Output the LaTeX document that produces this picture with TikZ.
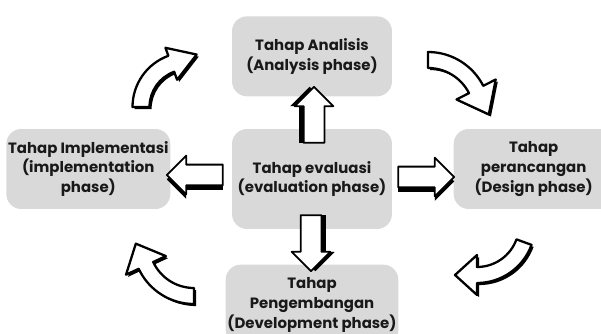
\documentclass[tikz,border=0pt]{standalone}
\usepackage{fontspec}
\setmainfont{Poppins}
\usepackage{tikz}
\usetikzlibrary{shapes.arrows,positioning,shadows}

\definecolor{phasegray}{RGB}{217,217,217}
\definecolor{inkblack}{RGB}{25,25,25}

\tikzset{
  phase/.style={rectangle, rounded corners=0.3cm, fill=phasegray, text=inkblack, align=center,
    font=\bfseries\fontsize{8.5}{11.3}\selectfont, minimum width=3.2cm, minimum height=1.6cm, inner sep=1pt},
  blockarrow/.style={single arrow, draw=black, fill=white, line width=1pt, line join=round,
    minimum height=1.12cm, inner sep=0.19cm, single arrow head extend=0.18cm},
  bendarrow/.style={draw=black, fill=white, line width=1.3pt, line join=round,
    drop shadow={shadow xshift=1.2pt, shadow yshift=-1.2pt, fill=black, opacity=1}},
}

% curved block arrow: centre, radius, start, end, half width, head length, head half width
\newcommand{\curlyarrow}[7]{%
  \pgfmathsetmacro{\rout}{#2+#5}%
  \pgfmathsetmacro{\rin}{#2-#5}%
  \pgfmathsetmacro{\wout}{#2+#7}%
  \pgfmathsetmacro{\win}{#2-#7}%
  \pgfmathsetmacro{\tipx}{#2*cos(#4)+#6*cos(#4+90)}%
  \pgfmathsetmacro{\tipy}{#2*sin(#4)+#6*sin(#4+90)}%
  \draw[bendarrow, shift={#1}] (#3:\rout) arc[start angle=#3, end angle=#4, radius=\rout]
    -- (#4:\wout) -- (\tipx,\tipy) -- (#4:\win) -- (#4:\rin)
    arc[start angle=#4, end angle=#3, radius=\rin] -- cycle;
}

\begin{document}
\begin{tikzpicture}[x=0.02cm, y=-0.02cm, node distance=0.64cm]
    \clip (0,0) rectangle (601,334);

    % phases
    \node [phase, minimum height=2cm] (eva) at (312,179) {Tahap evaluasi\\(evaluation phase)};
    \node [phase, above=of eva] (ana) {Tahap Analisis\\(Analysis phase)};
    \node [phase, below=0.7cm of eva] (dev) {Tahap\\Pengembangan\\(Development phase)};
    \node [phase, left=1.22cm of eva, yshift=0.2cm] (imp) {Tahap Implementasi\\(implementation\\phase)};
    \node [phase, right=1.22cm of eva, yshift=0.2cm] (des) {Tahap\\perancangan\\(Design phase)};

    % straight arrows out of the evaluation phase
    \node [blockarrow, shape border rotate=90,
      drop shadow={shadow xshift=-2.5pt, shadow yshift=0pt, fill=black, opacity=1}] (uparr) at (314,120) {};
    \node [blockarrow, shape border rotate=180,
      drop shadow={shadow xshift=0pt, shadow yshift=-2.5pt, fill=black, opacity=1}] (leftarr) at (200,175) {};
    \node [blockarrow,
      drop shadow={shadow xshift=0pt, shadow yshift=-2.5pt, fill=black, opacity=1}] (rightarr) at (421,177) {};
    \node [blockarrow, shape border rotate=270,
      drop shadow={shadow xshift=2.5pt, shadow yshift=0pt, fill=black, opacity=1}] (downarr) at (311,238) {};

    % curved arrows round the cycle
    \curlyarrow{(187,107)}{46}{180}{250}{8.5}{27}{17}
    \curlyarrow{(428,114)}{54}{270}{333}{8}{28}{22}
    \curlyarrow{(477,225)}{50}{20}{90}{8}{22}{20}
    \curlyarrow{(194,243)}{53}{90}{155}{8}{24}{22}
\end{tikzpicture}
\end{document}
